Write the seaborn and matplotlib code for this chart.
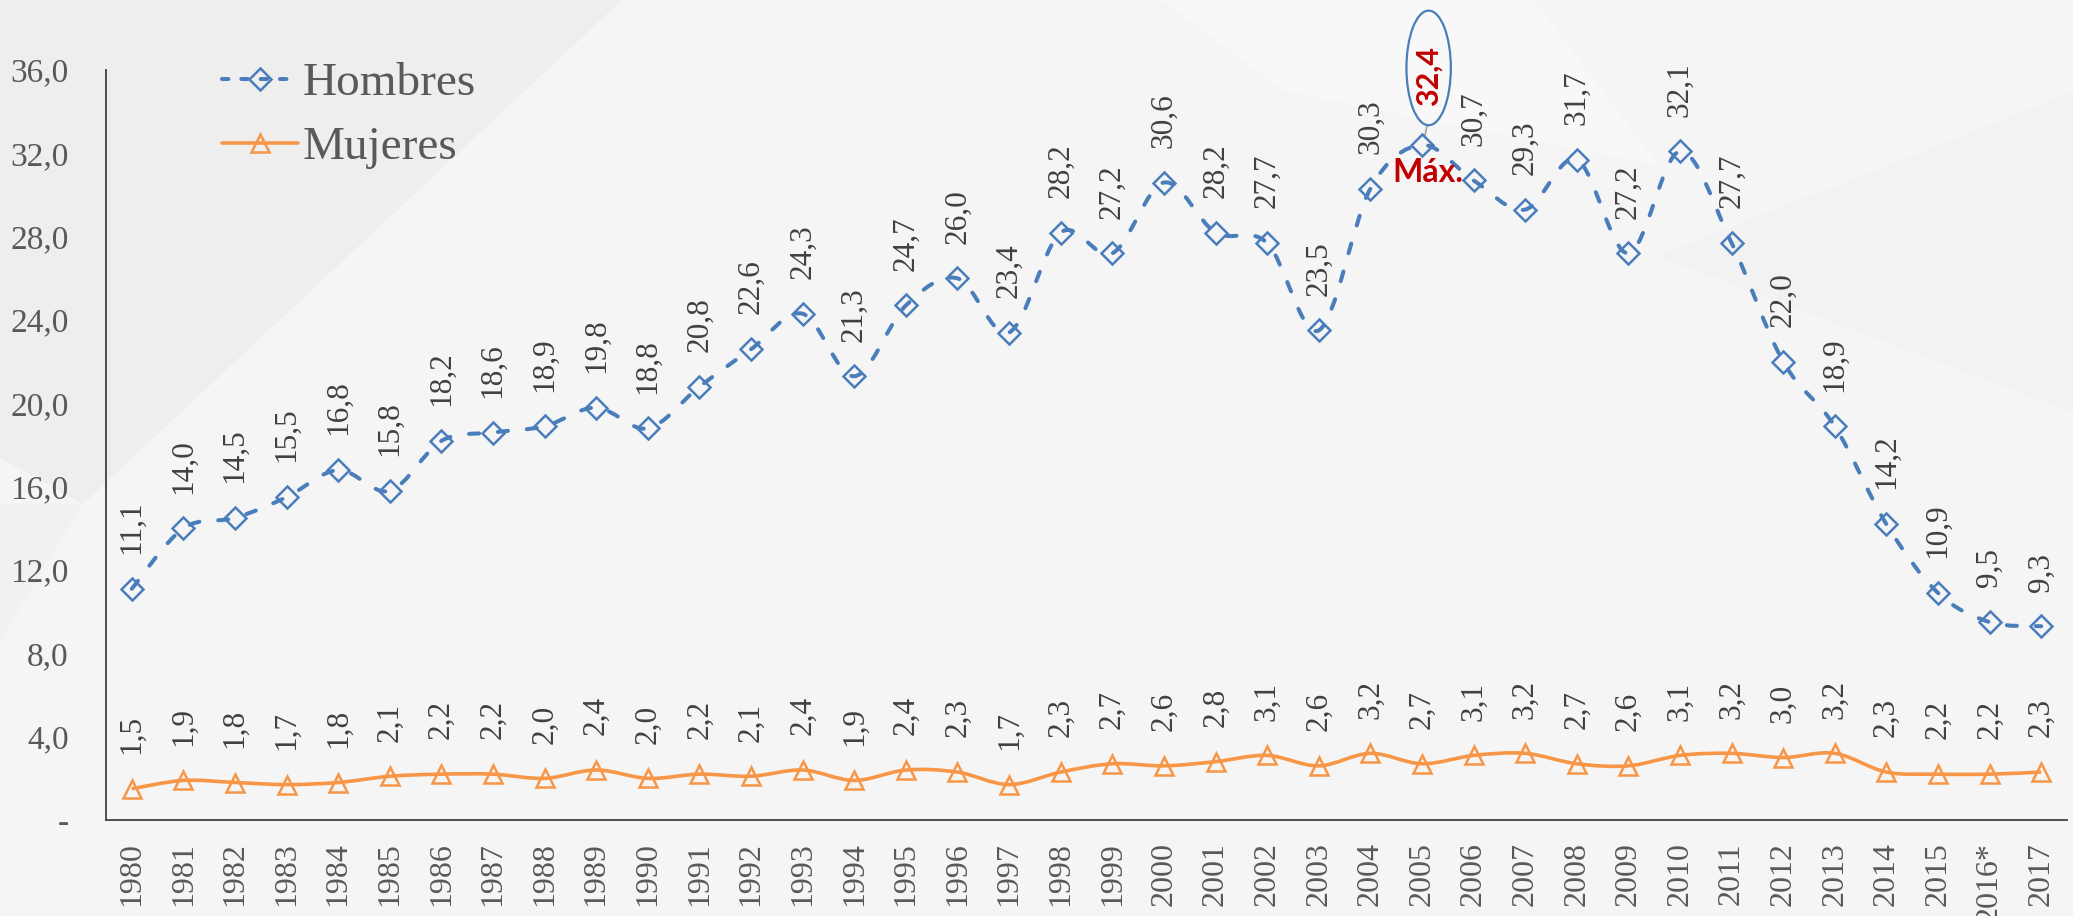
import numpy as np
import pandas as pd
import matplotlib
matplotlib.use("Agg")
import matplotlib.pyplot as plt
from matplotlib.path import Path
from matplotlib.patches import PathPatch, Ellipse, Polygon
from matplotlib.lines import Line2D
import seaborn as sns

# data
year_labels = ['1980', '1981', '1982', '1983', '1984', '1985', '1986', '1987', '1988', '1989',
               '1990', '1991', '1992', '1993', '1994', '1995', '1996', '1997', '1998', '1999',
               '2000', '2001', '2002', '2003', '2004', '2005', '2006', '2007', '2008', '2009',
               '2010', '2011', '2012', '2013', '2014', '2015', '2016*', '2017']
hombres = [11.1, 14.0, 14.5, 15.5, 16.8, 15.8, 18.2, 18.6, 18.9, 19.8,
           18.8, 20.8, 22.6, 24.3, 21.3, 24.7, 26.0, 23.4, 28.2, 27.2,
           30.6, 28.2, 27.7, 23.5, 30.3, 32.4, 30.7, 29.3, 31.7, 27.2,
           32.1, 27.7, 22.0, 18.9, 14.2, 10.9, 9.5, 9.3]
mujeres = [1.5, 1.9, 1.8, 1.7, 1.8, 2.1, 2.2, 2.2, 2.0, 2.4,
           2.0, 2.2, 2.1, 2.4, 1.9, 2.4, 2.3, 1.7, 2.3, 2.7,
           2.6, 2.8, 3.1, 2.6, 3.2, 2.7, 3.1, 3.2, 2.7, 2.6,
           3.1, 3.2, 3.0, 3.2, 2.3, 2.2, 2.2, 2.3]
y_ticks = [0, 4, 8, 12, 16, 20, 24, 28, 32, 36]
y_tick_labels = ['-', '4,0', '8,0', '12,0', '16,0', '20,0', '24,0', '28,0', '32,0', '36,0']

BLUE = '#4a7ebb'
ORANGE = '#f79646'
GREY = '#595959'
RED = '#c00000'
DASH = (0, (2.5, 4.7))

sns.set_style('white')
plt.rcParams['font.family'] = ['Liberation Serif', 'DejaVu Serif']

pos = np.arange(len(year_labels))
df = pd.DataFrame({'pos': pos, 'year': year_labels,
                   'Hombres': hombres, 'Mujeres': mujeres})


def smooth_path(xs, ys):
    # excel-like smoothed line: cubic bezier through every point
    n = len(xs)
    verts = [(xs[0], ys[0])]
    codes = [Path.MOVETO]
    for i in range(n - 1):
        a = max(i - 1, 0)
        d = min(i + 2, n - 1)
        c1 = (xs[i] + (xs[i + 1] - xs[a]) / 6, ys[i] + (ys[i + 1] - ys[a]) / 6)
        c2 = (xs[i + 1] - (xs[d] - xs[i]) / 6, ys[i + 1] - (ys[d] - ys[i]) / 6)
        verts += [c1, c2, (xs[i + 1], ys[i + 1])]
        codes += [Path.CURVE4] * 3
    return Path(verts, codes)


fig = plt.figure(figsize=(20.73, 9.16), dpi=100)
fig.patch.set_facecolor('#f5f5f5')

# faint background shapes
for pts, c in [([(0, 1), (0.30, 1), (0.04, 0.45), (0, 0.50)], '#eeeeee'),
               ([(0.0, 0.45), (0.04, 0.45), (0.0, 0.30)], '#f1f1f1'),
               ([(0.56, 1), (0.74, 1), (0.80, 0.82), (0.62, 0.90)], '#f8f8f8'),
               ([(0.80, 0.72), (1, 0.90), (1, 0.55)], '#f2f2f2')]:
    fig.patches.append(Polygon(pts, closed=True, transform=fig.transFigure,
                               facecolor=c, edgecolor='none', zorder=-5))

ax = fig.add_axes([106 / 2073, 1 - 820 / 916, (2067 - 106) / 2073, (820 - 70) / 916])
ax.set_facecolor('none')
ax.set_zorder(2)

ax.add_patch(PathPatch(smooth_path(pos, hombres), facecolor='none', edgecolor=BLUE,
                       lw=2.9, linestyle=DASH, capstyle='round', zorder=2))
ax.add_patch(PathPatch(smooth_path(pos, mujeres), facecolor='none', edgecolor=ORANGE,
                       lw=2.6, zorder=2))

sns.lineplot(data=df, x='pos', y='Hombres', ax=ax, linestyle='', marker='D',
             markersize=11, markerfacecolor='none', markeredgecolor=BLUE,
             markeredgewidth=1.8, zorder=3)
sns.lineplot(data=df, x='pos', y='Mujeres', ax=ax, linestyle='', marker='^',
             markersize=13, markerfacecolor='none', markeredgecolor=ORANGE,
             markeredgewidth=1.8, zorder=3)

imax = int(np.argmax(hombres))
for series in (hombres, mujeres):
    for i, v in enumerate(series):
        if series is hombres and i == imax:
            continue
        ax.annotate(f'{v:.1f}'.replace('.', ','), (i, v), xytext=(0, 25),
                    textcoords='offset points', rotation=90, ha='center',
                    va='bottom', fontsize=22.5, color='#404040', annotation_clip=False)

# highlighted maximum
vmax = hombres[imax]
ax.add_patch(Ellipse((imax + 0.13, vmax + 3.7), 0.86, 5.5, facecolor='none',
                     edgecolor=BLUE, lw=1.6, clip_on=False, zorder=4))
ax.text(imax + 0.13, vmax + 3.3, f'{vmax:.1f}'.replace('.', ','), rotation=90,
        ha='center', va='center', fontsize=22, fontweight='bold', color=RED,
        family=['Lato', 'DejaVu Sans'])
ax.plot([imax + 0.1, imax + 0.05], [vmax + 0.95, vmax + 0.35], color='#a0a0a0', lw=1.2,
        clip_on=False)
ax.text(imax + 0.12, vmax - 1.3, 'Máx.', ha='center', va='center', fontsize=23,
        fontweight='bold', color=RED, family=['Lato', 'DejaVu Sans'])

ax.set_xlim(-0.5, len(year_labels) - 0.5)
ax.set_ylim(0, 36)
ax.set_xticks(pos)
ax.set_xticklabels(year_labels, rotation=90, fontsize=23, color=GREY)
ax.set_yticks(y_ticks)
ax.set_yticklabels(y_tick_labels, fontsize=24, color=GREY)
ax.tick_params(axis='x', length=0, pad=16)
ax.tick_params(axis='y', length=0, pad=27)
ax.set_xlabel('')
ax.set_ylabel('')
for s in ('top', 'right'):
    ax.spines[s].set_visible(False)
for s in ('left', 'bottom'):
    ax.spines[s].set_color('#404040')
    ax.spines[s].set_linewidth(1.3)

handles = [
    Line2D([], [], color=BLUE, lw=2.9, linestyle=(0, (1.6, 3.2)), dash_capstyle='round',
           marker='D', markersize=11, markerfacecolor='none', markeredgecolor=BLUE,
           markeredgewidth=1.8),
    Line2D([], [], color=ORANGE, lw=2.6, marker='^', markersize=13,
           markerfacecolor='none', markeredgecolor=ORANGE, markeredgewidth=1.8),
]
leg = ax.legend(handles, ['Hombres', 'Mujeres'], loc='upper left',
                bbox_to_anchor=(222 / 2073, 1 - 62 / 916), bbox_transform=fig.transFigure,
                frameon=False, fontsize=34, handlelength=1.6, handletextpad=0.1,
                labelspacing=0.45, borderpad=0, borderaxespad=0)
for t in leg.get_texts():
    t.set_color(GREY)

fig.savefig('out.png', dpi=100, facecolor=fig.get_facecolor())
